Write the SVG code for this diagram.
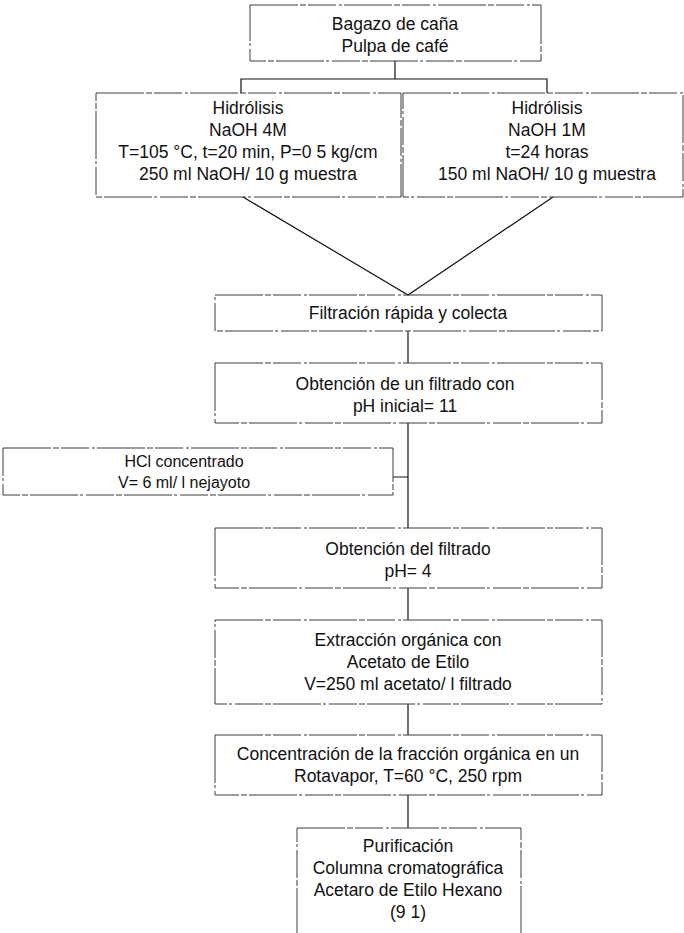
<svg xmlns="http://www.w3.org/2000/svg" width="684" height="933" viewBox="0 0 684 933">
<style>
.box{fill:none;stroke:#3a3a3a;stroke-width:1;stroke-dasharray:48 2 6 2 28 3 3 2}
.t{font-family:"Liberation Sans",Arial,sans-serif;font-size:17.5px;fill:#111;text-anchor:middle}
.s{font-size:16px}
.c{fill:none;stroke:#111;stroke-width:1.2}
</style>
<rect width="684" height="933" fill="#fff"/>
<g id="connectors">
<path class="c" d="M395 61V79M241 93V79H547V93"/>
<path class="c" d="M243 197L408 295L553 197"/>
<path class="c" d="M408 331V363M408 423V528M393 477H408M408 588V620M408 704V735M408 795V828"/>
</g>
<g id="n1"><rect class="box" x="250" y="5" width="291" height="56"/><text class="t" x="395" y="30">Bagazo de caña</text><text class="t" x="395" y="52">Pulpa de café</text></g>
<g id="n2"><rect class="box" x="96" y="93" width="305" height="104"/><text class="t" x="248" y="114">Hidrólisis</text><text class="t" x="248" y="136">NaOH 4M</text><text class="t" x="248" y="158">T=105 °C, t=20 min, P=0 5 kg/cm</text><text class="t" x="248" y="180">250 ml NaOH/ 10 g muestra</text></g>
<g id="n3"><rect class="box" x="403" y="93" width="280" height="104"/><text class="t" x="547" y="114">Hidrólisis</text><text class="t" x="547" y="136">NaOH 1M</text><text class="t" x="547" y="158">t=24 horas</text><text class="t" x="547" y="180">150 ml NaOH/ 10 g muestra</text></g>
<g id="n4"><rect class="box" x="215" y="295" width="387" height="36"/><text class="t" x="408" y="319">Filtración rápida y colecta</text></g>
<g id="n5"><rect class="box" x="215" y="363" width="387" height="60"/><text class="t" x="405" y="390">Obtención de un filtrado con</text><text class="t" x="405" y="412">pH inicial= 11</text></g>
<g id="n6"><rect class="box" x="3" y="448" width="390" height="47"/><text class="t s" x="184" y="467">HCl concentrado</text><text class="t s" x="184" y="488">V= 6 ml/ l nejayoto</text></g>
<g id="n7"><rect class="box" x="215" y="528" width="387" height="60"/><text class="t" x="408" y="555">Obtención del filtrado</text><text class="t" x="408" y="577">pH= 4</text></g>
<g id="n8"><rect class="box" x="215" y="620" width="387" height="84"/><text class="t" x="408" y="646">Extracción orgánica con</text><text class="t" x="408" y="668">Acetato de Etilo</text><text class="t" x="408" y="690">V=250 ml acetato/ l filtrado</text></g>
<g id="n9"><rect class="box" x="215" y="735" width="387" height="60"/><text class="t" x="408" y="760">Concentración de la fracción orgánica en un</text><text class="t" x="408" y="782">Rotavapor, T=60 °C, 250 rpm</text></g>
<g id="n10"><rect class="box" x="297" y="828" width="224" height="112"/><text class="t" x="408" y="852">Purificación</text><text class="t" x="408" y="874">Columna cromatográfica</text><text class="t" x="408" y="896">Acetaro de Etilo  Hexano</text><text class="t" x="408" y="918">(9 1)</text></g>
</svg>
